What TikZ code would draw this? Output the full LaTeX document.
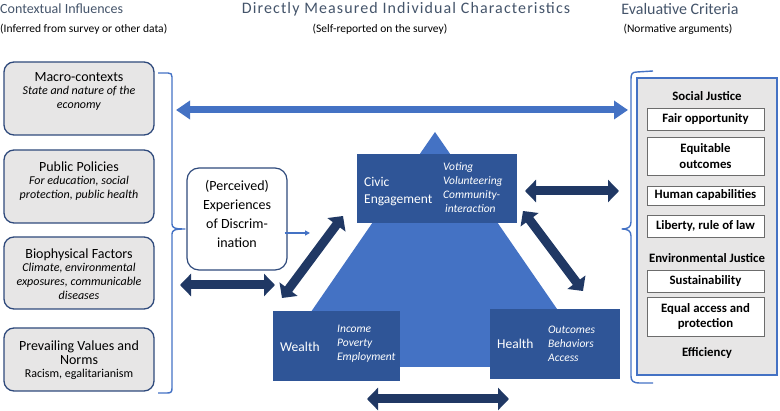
\documentclass[tikz,border=0pt]{standalone}
\usepackage{fontspec}
\setmainfont{Carlito}
\usetikzlibrary{arrows.meta,calc}
\definecolor{ttl}{HTML}{44546A}
\definecolor{mblue}{HTML}{4472C4}
\definecolor{dbox}{HTML}{2F5597}
\definecolor{darr}{HTML}{203864}
\definecolor{lgray}{HTML}{E7E6E6}
\definecolor{bord}{HTML}{2F4A7C}
\begin{document}
\begin{tikzpicture}[x=1pt,y=-1pt,
  ttlfont/.style={text=ttl, font=\fontsize{15.5}{18}\selectfont, inner sep=0},
  subfont/.style={font=\fontsize{11.5}{13}\selectfont, inner sep=0},
  lbox/.style={draw=bord, line width=1.3pt, fill=lgray, rounded corners=10pt, minimum width=150pt, inner sep=0},
  ltext/.style={align=center, inner sep=0, font=\fontsize{12}{14}\selectfont},
  dbx/.style={fill=dbox, draw=none, inner sep=0},
  wtxt/.style={text=white, inner sep=0, align=left, anchor=west},
  witxt/.style={text=white, inner sep=0, align=left, anchor=west, font=\fontsize{11.5}{14}\itshape},
  wbox/.style={draw=gray!85!black, line width=0.8pt, fill=white, minimum width=117pt, inner sep=0, align=center, font=\fontsize{12.8}{15.5}\bfseries},
  btxt/.style={inner sep=0, font=\fontsize{12.8}{15}\bfseries},
  bigarr/.style={draw=darr, line width=9pt, {Triangle[length=11pt,width=22pt]}-{Triangle[length=11pt,width=22pt]}},
  brace/.style={draw=mblue, line width=1.4pt, line join=round}]
\useasboundingbox (0,0) rectangle (780,411);

% titles
\node[ttlfont, anchor=west, font=\fontsize{14}{17}\selectfont] (t1) at (0,9) {Contextual Influences};
\node[subfont, anchor=west] (s1) at (0,29) {(Inferred from survey or other data)};
\node[ttlfont, font=\fontsize{16}{18}\selectfont\addfontfeature{LetterSpace=7}] (t2) at (406,9) {Directly Measured Individual Characteristics};
\node[subfont] (s2) at (380,29) {(Self-reported on the survey)};
\node[ttlfont, font=\fontsize{16}{18}\selectfont] (t3) at (680,9) {Evaluative Criteria};
\node[subfont] (s3) at (678,29) {(Normative arguments)};

% left boxes
\node[lbox, minimum height=73pt] (macro) at (79,98.5) {};
\node[ltext] (macrot) at (79,91) {{\fontsize{14}{16}\selectfont Macro-contexts}\\[-1pt]\textit{State and nature of the}\\\textit{economy}};
\node[lbox, minimum height=73pt] (pol) at (79,186.5) {};
\node[ltext] (polt) at (79,181) {{\fontsize{14}{16}\selectfont Public Policies}\\[-1pt]\textit{For education, social}\\\textit{protection, public health}};
\node[lbox, minimum height=72pt] (bio) at (79,273) {};
\node[ltext] (biot) at (79,274) {{\fontsize{14}{16}\selectfont Biophysical Factors}\\[-1pt]\textit{Climate, environmental}\\\textit{exposures, communicable}\\\textit{diseases}};
\node[lbox, minimum height=63pt] (prev) at (79,359.5) {};
\node[ltext] (prevt) at (79,360) {{\fontsize{14}{17}\selectfont Prevailing Values and}\\{\fontsize{14}{17}\selectfont Norms}\\[-1pt]Racism, egalitarianism};

% left brace
\draw[brace] (158,73) -- (168,73) .. controls (171,73) and (172,74) .. (172,77) -- (172,224)
  .. controls (172,228) and (175,229) .. (185,229)
  .. controls (175,229) and (172,230) .. (172,234) -- (172,388)
  .. controls (172,392) and (171,393) .. (167,393) -- (158,393);

% right brace
\draw[brace] (653,71) -- (637,72) .. controls (632,72) and (631,74) .. (631,79) -- (631,222)
  .. controls (631,227) and (628,229) .. (622,229)
  .. controls (628,229) and (631,231) .. (631,236) -- (631,376)
  .. controls (631,381) and (633,383) .. (640,383) -- (653,383);

% top blue double arrow
\coordinate (topL) at (176,110);
\coordinate (topR) at (628,110);
\draw[draw=mblue, line width=7pt, {Triangle[length=14pt,width=18pt]}-{Triangle[length=14pt,width=18pt]}] (topL) -- (topR);

% triangle
\fill[mblue] (435,132) -- (597,367) -- (273,367) -- cycle;

% discrimination box
\node[draw=bord, line width=1.2pt, fill=white, rounded corners=12pt, minimum width=100pt, minimum height=102pt, inner sep=0] (disc) at (237,219) {};
\node[align=center, inner sep=0, font=\fontsize{14}{19}\selectfont] (disct) at (237,214) {(Perceived)\\Experiences\\of Discrim-\\ination};
\coordinate (discA) at ($(disc.east)+(-3,14)$);
\coordinate (discB) at (310,233);
\draw[draw=mblue, line width=1.2pt, -{Triangle[length=5pt,width=5pt]}] (discA) -- (discB);

% dark boxes
\node[dbx, minimum width=160pt, minimum height=69pt] (civic) at (437,188.5) {};
\node[wtxt, align=left, font=\fontsize{13.5}{17}\selectfont] (civict) at (364,192) {Civic\\Engagement};
\node[witxt] (civici) at (443,188) {Voting\\Volunteering\\Community-\\\,interaction};

\node[dbx, minimum width=127pt, minimum height=70pt] (wealth) at (336.5,346) {};
\node[wtxt, font=\fontsize{13.5}{17}\selectfont] (wealtht) at (280,347) {Wealth};
\node[witxt] (wealthi) at (337,344) {Income\\Poverty\\Employment};

\node[dbx, minimum width=130pt, minimum height=70pt] (health) at (555,344) {};
\node[wtxt, font=\fontsize{13.5}{17}\selectfont] (healtht) at (497,344) {Health};
\node[witxt] (healthi) at (548,344) {Outcomes\\Behaviors\\Access};

% dark double arrows
\coordinate (a1) at (180,285); \coordinate (a2) at (275,285);
\draw[bigarr] (a1) -- (a2);
\coordinate (b1) at (282,298); \coordinate (b2) at (343,216);
\draw[bigarr] (b1) -- (b2);
\coordinate (c1) at (525,191); \coordinate (c2) at (619,191);
\draw[bigarr] (c1) -- (c2);
\coordinate (d1) at (523,211); \coordinate (d2) at (583,291);
\draw[bigarr] (d1) -- (d2);
\coordinate (e1) at (367,399); \coordinate (e2) at (509,399);
\draw[bigarr] (e1) -- (e2);

% right panel
\node[draw=mblue, line width=2.2pt, fill=lgray, minimum width=140pt, minimum height=297pt, inner sep=0] (eval) at (707,226.5) {};
\node[btxt] (sj) at (707,96) {Social Justice};
\node[wbox, minimum height=22pt] (fo) at (705.5,119) {Fair opportunity};
\node[wbox, minimum height=38pt] (eo) at (705.5,156) {Equitable\\outcomes};
\node[wbox, minimum height=19pt] (hc) at (705.5,195.5) {Human capabilities};
\node[wbox, minimum height=22pt] (lr) at (705.5,226) {Liberty, rule of law};
\node[btxt] (ej) at (707,258) {Environmental Justice};
\node[wbox, minimum height=22pt] (su) at (705.5,281) {Sustainability};
\node[wbox, minimum height=39pt] (ea) at (705.5,316.5) {Equal access and\\protection};
\node[btxt] (ef) at (707,353) {Efficiency};
\end{tikzpicture}
\end{document}
